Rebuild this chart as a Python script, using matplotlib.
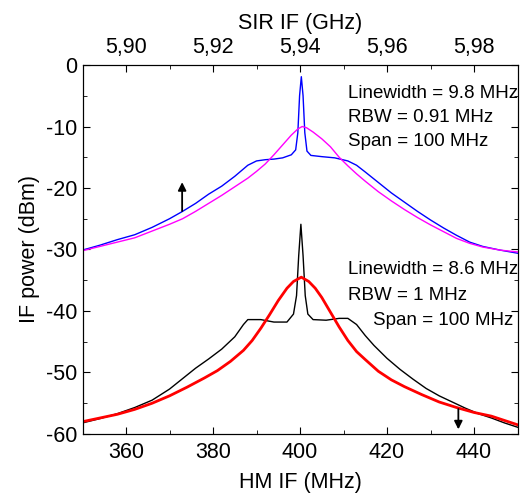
import matplotlib.pyplot as plt
from matplotlib.ticker import MultipleLocator, FuncFormatter

plt.rcParams['font.family'] = ['Liberation Sans', 'DejaVu Sans']
plt.rcParams['axes.unicode_minus'] = False

# HM IF (MHz) / power (dBm)
blue_x = [350, 354, 358, 362, 366, 370, 373, 376, 379, 382, 385, 388, 390, 392, 394, 396, 398,
          399, 399.5, 399.9, 400.3, 400.7, 401.1, 401.6, 402.5, 405, 408, 411, 413, 415, 418,
          421, 424, 427, 430, 433, 436, 439, 442, 446, 450]
blue_y = [-30.1, -29.3, -28.4, -27.6, -26.4, -25.0, -23.8, -22.5, -21.0, -19.7, -18.1, -16.3, -15.6,
          -15.4, -15.3, -15.1, -14.6, -13.8, -11.0, -5.0, -1.9, -5.0, -11.0, -14.0, -14.7, -14.9,
          -15.1, -15.6, -16.3, -17.4, -19.1, -20.8, -22.3, -23.8, -25.2, -26.5, -27.7, -28.8,
          -29.5, -30.1, -30.6]

mag_x = [350, 354, 358, 362, 366, 370, 373, 376, 379, 382, 385, 388, 390, 392, 394, 396, 398,
         399.5, 400.5, 401.5, 403, 405, 407, 409, 411, 413, 415, 418, 421, 424, 427, 430, 433,
         436, 439, 442, 446, 450]
mag_y = [-30.2, -29.5, -28.8, -28.1, -27.0, -25.9, -25.0, -23.8, -22.5, -21.2, -19.8, -18.4, -17.3,
         -16.1, -14.6, -13.0, -11.4, -10.4, -10.0, -10.2, -10.9, -12.0, -13.3, -15.0, -16.4, -17.7,
         -18.9, -20.6, -22.1, -23.5, -24.8, -26.0, -27.1, -28.2, -29.0, -29.6, -30.1, -30.4]

blk_x = [350, 354, 358, 362, 366, 370, 373, 376, 379, 382, 385, 387, 388, 391, 394, 397, 398.5,
         399.2, 399.7, 400.2, 400.7, 401.2, 401.8, 403, 406, 409, 411, 413, 415, 417, 420, 423,
         426, 429, 432, 435, 438, 441, 444, 447, 450]
blk_y = [-58.2, -57.5, -56.7, -55.7, -54.5, -52.7, -51.0, -49.3, -47.8, -46.2, -44.2, -42.2, -41.4,
         -41.4, -41.8, -41.8, -40.5, -37.5, -31.0, -25.9, -31.0, -37.5, -40.5, -41.4, -41.5, -41.2,
         -41.2, -42.2, -44.0, -45.6, -47.7, -49.5, -51.1, -52.6, -53.8, -54.8, -55.8, -56.7, -57.4,
         -58.2, -58.9]

red_x = [350, 354, 358, 362, 366, 370, 374, 378, 381, 384, 387, 389, 391, 393, 395, 397, 398.5,
         400.3, 402, 403.5, 405, 407, 409, 411, 413, 415, 418, 421, 424, 428, 432, 436, 440, 444,
         447, 450]
red_y = [-58.0, -57.4, -56.8, -56.0, -55.0, -53.8, -52.4, -50.9, -49.7, -48.2, -46.4, -44.8, -42.8,
         -40.6, -38.3, -36.3, -35.2, -34.5, -35.2, -36.3, -37.8, -40.2, -42.6, -44.8, -46.6, -47.9,
         -49.8, -51.2, -52.3, -53.6, -54.8, -55.7, -56.5, -57.1, -57.8, -58.5]

top_ticks = [5.90, 5.92, 5.94, 5.96, 5.98]

fig = plt.figure(figsize=(5.31, 4.94), dpi=100)
ax = fig.add_axes([0.1554, 0.1215, 0.8192, 0.7469])

ax.plot(blue_x, blue_y, color='#0000ff', lw=1.0)
ax.plot(mag_x, mag_y, color='#ff00ff', lw=1.0)
ax.plot(blk_x, blk_y, color='black', lw=1.0)
ax.plot(red_x, red_y, color='#ff0000', lw=2.0)

ax.annotate('', xy=(372.9, -18.6), xytext=(372.9, -24.2),
            arrowprops=dict(arrowstyle='-|>', color='black', lw=1.3, mutation_scale=12))
ax.annotate('', xy=(436.4, -59.7), xytext=(436.4, -55.5),
            arrowprops=dict(arrowstyle='-|>', color='black', lw=1.3, mutation_scale=12))

fs = 13.5
ax.text(411.0, -4.7, 'Linewidth = 9.8 MHz', fontsize=fs, va='center')
ax.text(411.0, -8.6, 'RBW = 0.91 MHz', fontsize=fs, va='center')
ax.text(411.0, -12.4, 'Span = 100 MHz', fontsize=fs, va='center')
ax.text(411.0, -33.3, 'Linewidth = 8.6 MHz', fontsize=fs, va='center')
ax.text(411.0, -37.4, 'RBW = 1 MHz', fontsize=fs, va='center')
ax.text(416.8, -41.5, 'Span = 100 MHz', fontsize=fs, va='center')

ax.set_xlim(350, 450)
ax.set_ylim(-60, 0)
ax.xaxis.set_major_locator(MultipleLocator(20))
ax.xaxis.set_minor_locator(MultipleLocator(10))
ax.yaxis.set_major_locator(MultipleLocator(10))
ax.yaxis.set_minor_locator(MultipleLocator(5))
ax.tick_params(which='both', direction='in', right=True, labelsize=15.5)
ax.tick_params(which='major', length=5)
ax.tick_params(which='minor', length=3)
ax.tick_params(axis='x', pad=6)
ax.tick_params(axis='y', pad=4)
ax.set_xlabel('HM IF (MHz)', fontsize=15.5, labelpad=6)
ax.set_ylabel('IF power (dBm)', fontsize=15.5, labelpad=4)

ax2 = ax.twiny()
ax2.set_xlim(5.89, 5.99)
ax2.set_xticks(top_ticks)
ax2.xaxis.set_minor_locator(MultipleLocator(0.01))
ax2.xaxis.set_major_formatter(FuncFormatter(lambda v, p: f'{v:.2f}'.replace('.', ',')))
ax2.tick_params(which='both', direction='in', labelsize=15.5, pad=5)
ax2.tick_params(which='major', length=5)
ax2.tick_params(which='minor', length=3)
ax2.set_xlabel('SIR IF (GHz)', fontsize=15.5, labelpad=6)

fig.savefig('out.png', dpi=100)
